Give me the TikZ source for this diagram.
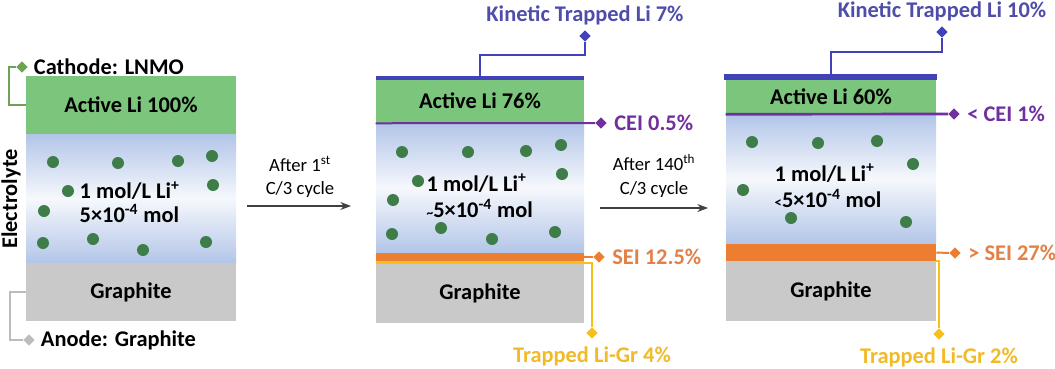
\documentclass[tikz,border=0pt]{standalone}
\usepackage{fontspec}
\setmainfont{Carlito}
\usepackage{tikz}
\usetikzlibrary{arrows.meta,positioning,shapes.geometric,fit}
\definecolor{verdeativo}{RGB}{124,197,124}
\definecolor{verdeponto}{RGB}{62,124,72}
\definecolor{verdecatodo}{RGB}{108,164,84}
\definecolor{azuleletro}{RGB}{178,197,232}
\definecolor{cinzagrafite}{RGB}{201,201,201}
\definecolor{cinzaanodo}{RGB}{188,188,188}
\definecolor{azulcinetico}{RGB}{66,66,184}
\definecolor{textocinetico}{RGB}{78,78,170}
\definecolor{roxocei}{RGB}{112,48,160}
\definecolor{laranjasei}{RGB}{237,125,49}
\definecolor{textosei}{RGB}{226,128,70}
\definecolor{amarelogr}{RGB}{246,192,24}
\definecolor{textogr}{RGB}{240,186,40}
\tikzset{
  camada/.style={rectangle,inner sep=0pt,draw=none},
  eletrolito/.style={camada,top color=azuleletro,bottom color=azuleletro,
    middle color=white!88!azuleletro},
  ponto/.style={circle,fill=verdeponto,minimum size=9pt,inner sep=0pt},
  losango/.style={diamond,minimum size=8.5pt,inner sep=0pt},
  texto/.style={font=\fontsize{16.8}{18}\selectfont\bfseries},
  ciclo/.style={font=\fontsize{14}{17.5}\selectfont,align=center},
  ligacao/.style={line width=1.5pt},
  seta/.style={-{Stealth[length=8pt,width=6pt]},line width=0.9pt,black!75}
}

\begin{document}
\begin{tikzpicture}[x=0.75pt,y=-0.75pt]
\useasboundingbox (0,0) rectangle (1055,368);

\node[camada,fill=verdeativo,fit={(26,76)(236,134)}] (ativo1) {};
\node[eletrolito,fit={(26,134)(236,263)}] (eletro1) {};
\node[camada,fill=cinzagrafite,fit={(26,263)(236,321)}] (grafite1) {};
\node[texto] at (ativo1) {Active Li 100\%};
\node[texto] at (grafite1) {Graphite};
\foreach \px/\py in {53/162,118/163,178/161,212/156,68/191,213/185,44/211,43/243,93/239,143/250,206/242}
  \node[ponto] at (\px,\py) {};
\node[texto,align=left,anchor=west] (conc1) at (75,202) {1 mol/L Li\textsuperscript{+}\\[0pt]5×10\textsuperscript{-4} mol};
\node[texto,rotate=90] (rotuloeletro) at (11,199) {Electrolyte};
\node[losango,fill=verdecatodo] (catodo) at (22,67) {};
\node[texto,right=1pt of catodo] (rotulocatodo) {Cathode: LNMO};
\draw[ligacao,verdecatodo] (catodo.west) -- ++(-7,0) |- (ativo1.west);
\node[losango,fill=cinzaanodo] (anodo) at (29,340) {};
\node[texto,right=1pt of anodo] (rotuloanodo) {Anode: Graphite};
\draw[ligacao,cinzaanodo] (grafite1.west) -- ++(-16,0) |- (anodo.west);

\coordinate (seta1a) at (247,206);
\coordinate (seta1b) at (351,206);
\draw[seta] (seta1a) -- (seta1b);
\node[ciclo] (ciclo1) at (300,177) {After 1\textsuperscript{st}\\C/3 cycle};

\node[camada,fill=verdeativo,fit={(376,79)(584,123)}] (ativo2) {};
\node[camada,fill=azulcinetico,fit={(376,76)(584,80)}] (cinetico2) {};
\node[eletrolito,fit={(376,123)(584,253)}] (eletro2) {};
\node[camada,fill=laranjasei,fit={(376,253)(584,261)}] (sei2) {};
\node[camada,fill=amarelogr,fit={(376,261)(584,264)}] (ligr2) {};
\node[camada,fill=cinzagrafite,fit={(376,264)(584,323)}] (grafite2) {};
\node[texto] at (ativo2) {Active Li 76\%};
\node[texto] at (grafite2) {Graphite};
\foreach \px/\py in {402/152,468/152,526/151,561/145,418/181,562/174,393/200,392/234,441/228,492/239,555/232}
  \node[ponto] at (\px,\py) {};
\node[texto,align=left,anchor=west] (conc2) at (422,196) {1 mol/L Li\textsuperscript{+}\\[2pt]{\fontsize{10}{10}\selectfont\textasciitilde}5×10\textsuperscript{-4} mol};
\node[losango,fill=azulcinetico] (cind2) at (585,36) {};
\node[texto,text=textocinetico,above=0pt of cind2] {Kinetic Trapped Li 7\%};
\draw[ligacao,azulcinetico] (cinetico2.north) -- ++(0,-21) -| (cind2.south);
\node[losango,fill=roxocei] (ceid2) at (601,123) {};
\node[texto,text=roxocei,right=2pt of ceid2] {CEI 0.5\%};
\draw[ligacao,roxocei] (ativo2.south west) -- (ceid2.west);
\node[losango,fill=laranjasei] (seid2) at (599,257) {};
\node[texto,text=textosei,right=2pt of seid2] {SEI 12.5\%};
\draw[ligacao,laranjasei] (sei2.east) -- (seid2.west);
\node[losango,fill=amarelogr] (grd2) at (592,333) {};
\node[texto,text=textogr,below=2pt of grd2] {Trapped Li-Gr 4\%};
\draw[ligacao,amarelogr] (ligr2.east) -| (grd2.north);

\coordinate (seta2a) at (600,208);
\coordinate (seta2b) at (708,208);
\draw[seta] (seta2a) -- (seta2b);
\node[ciclo] (ciclo2) at (654,176) {After 140\textsuperscript{th}\\C/3 cycle};

\node[camada,fill=verdeativo,fit={(726,79)(936,114)}] (ativo3) {};
\node[camada,fill=azulcinetico,fit={(724,74)(937,80)}] (cinetico3) {};
\node[eletrolito,fit={(726,114)(936,244)}] (eletro3) {};
\node[camada,fill=laranjasei,fit={(726,244)(936,261)}] (sei3) {};
\node[camada,fill=cinzagrafite,fit={(726,261)(936,321)}] (grafite3) {};
\node[texto] at (ativo3) {Active Li 60\%};
\node[texto] at (grafite3) {Graphite};
\foreach \px/\py in {752/142,818/143,877/141,913/164,743/190,791/218,906/222}
  \node[ponto] at (\px,\py) {};
\node[texto,align=left,anchor=west] (conc3) at (770,186) {1 mol/L Li\textsuperscript{+}\\[2pt]{\fontsize{11}{11}\selectfont<}5×10\textsuperscript{-4} mol};
\node[losango,fill=azulcinetico] (cind3) at (942,32) {};
\node[texto,text=textocinetico,above=0pt of cind3] {Kinetic Trapped Li 10\%};
\draw[ligacao,azulcinetico] (cinetico3.north) -- ++(0,-22) -| (cind3.south);
\node[losango,fill=roxocei] (ceid3) at (954,114) {};
\node[texto,text=roxocei,right=2pt of ceid3] {< CEI 1\%};
\draw[ligacao,roxocei,line width=2pt] (ativo3.south west) -- (ceid3.west);
\node[losango,fill=laranjasei] (seid3) at (955,253) {};
\node[texto,text=textosei,right=2pt of seid3] {> SEI 27\%};
\draw[ligacao,laranjasei] (sei3.east) -- (seid3.west);
\node[losango,fill=amarelogr] (grd3) at (939,334) {};
\node[texto,text=textogr,below=2pt of grd3] {Trapped Li-Gr 2\%};
\draw[ligacao,amarelogr] (sei3.south east) -| (grd3.north);
\end{tikzpicture}
\end{document}
